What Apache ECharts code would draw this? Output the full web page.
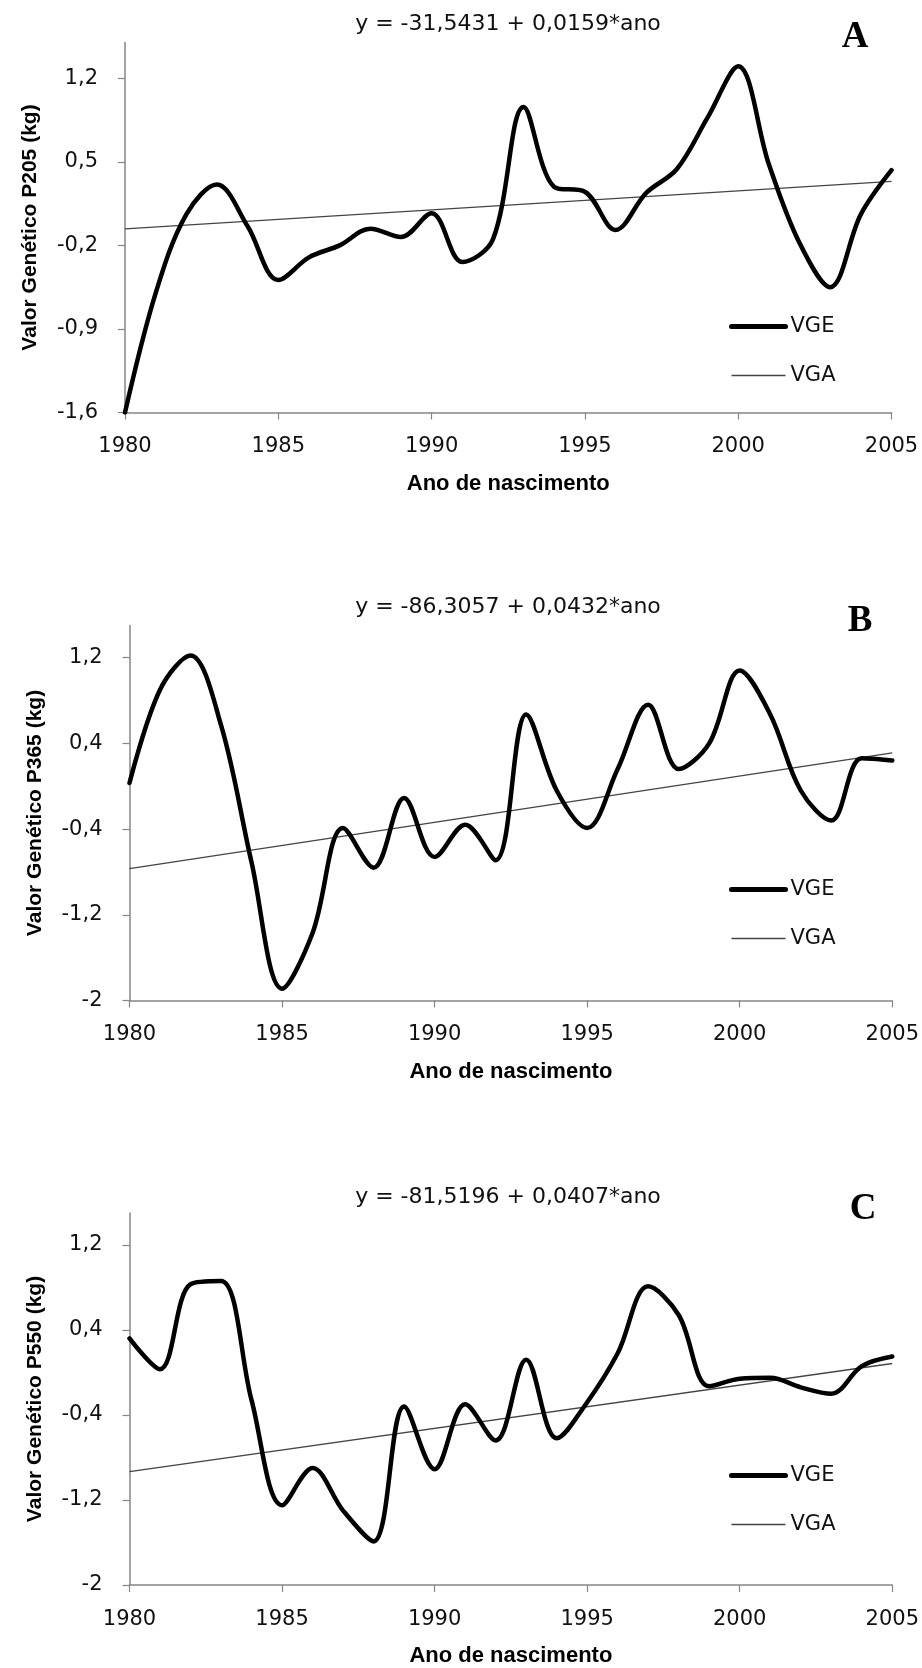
<!DOCTYPE html>
<html>
<head>
<meta charset="utf-8">
<script src="https://cdn.jsdelivr.net/npm/echarts@6/dist/echarts.min.js"></script>
<style>
  html, body { margin: 0; padding: 0; background: #ffffff; }
  #chart { width: 922px; height: 1668px; }
</style>
</head>
<body>
<div id="chart"></div>
<script>
// ---------- data ----------
const years = [1980,1981,1982,1983,1984,1985,1986,1987,1988,1989,1990,1991,1992,
               1993,1994,1995,1996,1997,1998,1999,2000,2001,2002,2003,2004,2005];

// VGE (genetic value per birth year)
const vgeP205 = [-1.60,-0.60,0.06,0.31,-0.04,-0.49,-0.30,-0.20,-0.06,-0.13,0.07,-0.34,-0.15,
                 0.96,0.29,0.25,-0.07,0.24,0.44,0.87,1.30,0.48,-0.18,-0.55,0.06,0.43];
const vgeP365 = [0.03,0.90,1.22,0.57,-0.71,-1.89,-1.37,-0.39,-0.76,-0.11,-0.66,-0.36,-0.69,
                 0.67,-0.04,-0.39,0.16,0.76,0.16,0.40,1.08,0.67,-0.04,-0.32,0.26,0.24];
const vgeP550 = [0.32,0.03,0.83,0.86,-0.26,-1.25,-0.90,-1.30,-1.59,-0.32,-0.91,-0.30,-0.64,
                 0.12,-0.62,-0.28,0.18,0.81,0.54,-0.13,-0.06,-0.05,-0.14,-0.20,0.06,0.15];

// VGA (regression line) at the first and last birth year
const trendYears = [1980, 2005];
const vgaP205 = [-0.0611, 0.3364];
const vgaP365 = [-0.7697, 0.3103];
const vgaP550 = [-0.9336, 0.0839];

// tick labels
const xTicks = [1980, 1985, 1990, 1995, 2000, 2005];
const yTicksP205 = [-1.6, -0.9, -0.2, 0.5, 1.2];
const yTicksP365 = [-2, -1.2, -0.4, 0.4, 1.2];
const yTicksP550 = [-2, -1.2, -0.4, 0.4, 1.2];

// texts
const equations = ['y = -31,5431 + 0,0159*ano', 'y = -86,3057 + 0,0432*ano', 'y = -81,5196 + 0,0407*ano'];
const panelLetters = ['A', 'B', 'C'];
const yNames = ['Valor Genético P205 (kg)', 'Valor Genético P365 (kg)', 'Valor Genético P550 (kg)'];
const xName = 'Ano de nascimento';
const seriesNames = ['VGE', 'VGA'];

// ---------- layout (pixels) ----------
const panels = [
  { grid: {left: 125, top: 42.5, width: 766.5, height: 370}, yMin: -1.6, yMax: 1.5, ticks: yTicksP205,
    vge: vgeP205, vga: vgaP205, eqY: 24, letter: [855, 37], legendTop: 316 },
  { grid: {left: 129.5, top: 625.5, width: 764, height: 375}, yMin: -2, yMax: 1.5, ticks: yTicksP365,
    vge: vgeP365, vga: vgaP365, eqY: 607, letter: [860, 621], legendTop: 879 },
  { grid: {left: 129.5, top: 1213, width: 764, height: 372.5}, yMin: -2, yMax: 1.5, ticks: yTicksP550,
    vge: vgeP550, vga: vgaP550, eqY: 1197, letter: [863, 1209], legendTop: 1465 }
];

const AXIS_COLOR = '#868686';
const REG = '"DejaVu Sans", sans-serif';
const BOLD = '"Liberation Sans", Arial, sans-serif';
const fmt = v => String(v).replace('.', ',');

const option = {
  animation: false,
  backgroundColor: '#ffffff',
  grid: [], xAxis: [], yAxis: [], series: [], legend: [], graphic: []
};

panels.forEach((p, i) => {
  option.grid.push(Object.assign({containLabel: false}, p.grid));
  option.xAxis.push({
    type: 'value', gridIndex: i, min: 1980, max: 2005, interval: 5,
    name: xName, nameLocation: 'middle', nameGap: 60,
    nameTextStyle: {fontFamily: BOLD, fontWeight: 'bold', fontSize: 22, color: '#000'},
    axisLine: {show: true, onZero: false, lineStyle: {color: AXIS_COLOR, width: 1.5}},
    axisTick: {show: true, length: 7, lineStyle: {color: AXIS_COLOR, width: 1.2}, customValues: xTicks},
    axisLabel: {fontFamily: REG, fontSize: 21, color: '#111', margin: 24, customValues: xTicks,
                formatter: v => String(v)},
    splitLine: {show: false}
  });
  option.yAxis.push({
    type: 'value', gridIndex: i, min: p.yMin, max: p.yMax,
    name: yNames[i], nameLocation: 'middle', nameGap: 84,
    nameTextStyle: {fontFamily: BOLD, fontWeight: 'bold', fontSize: 21, color: '#000'},
    axisLine: {show: true, onZero: false, lineStyle: {color: AXIS_COLOR, width: 1.5}},
    axisTick: {show: true, length: 7, lineStyle: {color: AXIS_COLOR, width: 1.2}, customValues: p.ticks},
    axisLabel: {fontFamily: REG, fontSize: 21, color: '#111', margin: 27, customValues: p.ticks,
                formatter: fmt},
    splitLine: {show: false}
  });
  option.series.push({
    name: seriesNames[0], type: 'line', xAxisIndex: i, yAxisIndex: i,
    data: years.map((y, k) => [y, p.vge[k]]),
    smooth: 0.35, symbol: 'none', z: 3,
    lineStyle: {color: '#000000', width: 4.5, cap: 'round', join: 'round'},
    itemStyle: {color: '#000000'}
  });
  option.series.push({
    name: seriesNames[1], type: 'line', xAxisIndex: i, yAxisIndex: i,
    data: trendYears.map((y, k) => [y, p.vga[k]]),
    symbol: 'none', z: 2,
    lineStyle: {color: '#444444', width: 1.3},
    itemStyle: {color: '#444444'}
  });
  option.legend.push({
    orient: 'vertical', left: 729, top: p.legendTop, padding: 0,
    itemWidth: 54, itemHeight: 14, itemGap: 28,
    data: [
      {name: seriesNames[0], lineStyle: {width: 5, color: '#000000', cap: 'round'}},
      {name: seriesNames[1], lineStyle: {width: 1.3, color: '#444444'}}
    ],
    itemStyle: {opacity: 0, color: 'transparent', borderWidth: 0},
    selectedMode: false,
    textStyle: {fontFamily: REG, fontSize: 21, color: '#111'}
  });
  option.graphic.push({
    type: 'text', x: 508, y: p.eqY, z: 10,
    style: {text: equations[i], font: '22px "DejaVu Sans"', fill: '#111',
            align: 'center', verticalAlign: 'middle', textAlign: 'center', textVerticalAlign: 'middle'}
  });
  option.graphic.push({
    type: 'text', x: p.letter[0], y: p.letter[1], z: 10,
    style: {text: panelLetters[i], font: 'bold 37px "Liberation Serif"', fill: '#000',
            align: 'center', verticalAlign: 'middle', textAlign: 'center', textVerticalAlign: 'middle'}
  });
});

const chart = echarts.init(document.getElementById('chart'), null, {renderer: 'canvas'});
chart.setOption(option);
</script>
</body>
</html>
